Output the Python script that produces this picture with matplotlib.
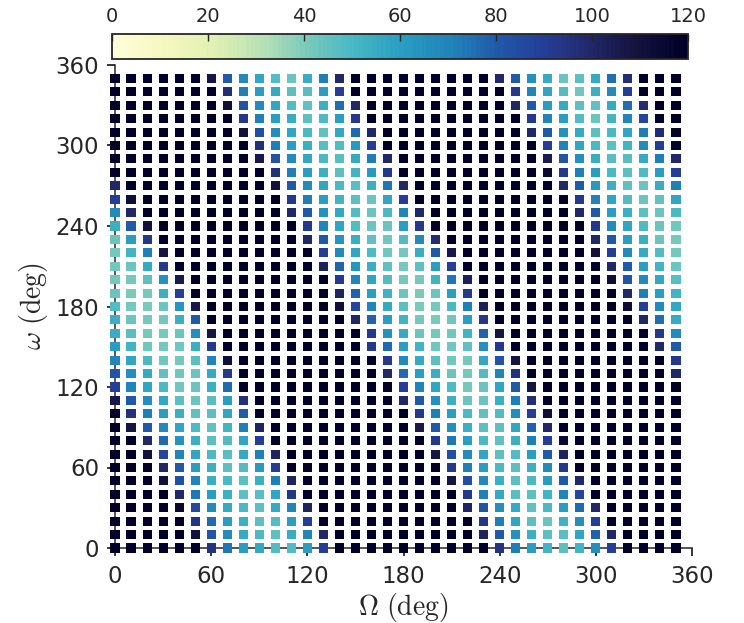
import numpy as np
import matplotlib
matplotlib.use('Agg')
import matplotlib.pyplot as plt
from matplotlib.colors import LinearSegmentedColormap

# Omega values along x, one list per omega row below
node_deg = list(range(0, 360, 10))
peri_deg = list(range(0, 360, 10))
x_ticks = [0, 60, 120, 180, 240, 300, 360]
y_ticks = [0, 60, 120, 180, 240, 300, 360]
cbar_ticks = [0, 20, 40, 60, 80, 100, 120]

w000 = [120,120,120,120,120,120,95,74,60,57,48,48,60,90,120,120,120,120,120,120,120,120,120,120,95,72,60,52,46,52,66,90,120,120,120,120]
w010 = [120,120,120,120,120,110,82,68,56,50,46,55,70,100,120,120,120,120,120,120,120,120,120,102,80,65,54,46,47,58,78,100,120,120,120,120]
w020 = [120,120,120,120,120,94,76,60,54,46,48,60,90,120,120,120,120,120,120,120,120,120,120,94,72,58,46,44,53,66,90,120,120,120,120,120]
w030 = [120,120,120,120,116,86,68,56,50,46,56,70,102,120,120,120,120,120,120,120,120,120,102,82,66,56,45,50,60,76,100,120,120,120,120,120]
w040 = [120,120,120,120,100,74,60,54,46,47,58,94,120,120,120,120,120,120,120,120,120,120,92,72,57,47,46,52,70,88,120,120,120,120,120,120]
w050 = [120,120,120,110,84,70,55,50,46,54,72,102,120,120,120,120,120,120,120,120,120,108,84,68,54,46,50,60,80,100,120,120,120,120,120,120]
w060 = [120,120,120,100,80,60,54,46,48,62,90,120,120,120,120,120,120,120,120,120,120,92,72,60,50,46,54,68,92,120,120,120,120,120,120,120]
w070 = [120,120,110,88,70,58,50,47,56,72,102,120,120,120,120,120,120,120,120,120,108,84,68,58,46,48,60,80,102,120,120,120,120,120,120,120]
w080 = [120,120,100,76,64,54,46,48,58,90,120,120,120,120,120,120,120,120,120,120,92,74,60,50,45,54,72,90,114,120,120,120,120,120,120,120]
w090 = [120,108,80,68,58,49,45,52,72,102,120,120,120,120,120,120,120,120,120,106,80,66,54,46,46,58,78,100,120,120,120,120,120,120,120,120]
w100 = [120,96,72,60,54,45,46,58,80,120,120,120,120,120,120,120,120,120,120,92,72,60,50,45,48,67,90,112,120,120,120,120,120,120,120,120]
w110 = [106,80,67,57,46,44,47,60,96,120,120,120,120,120,120,120,120,120,100,80,65,54,44,44,54,72,97,120,120,120,120,120,120,120,120,120]
w120 = [90,70,58,50,43,44,54,76,120,120,120,120,120,120,120,120,120,120,90,70,58,49,42,44,58,80,108,120,120,120,120,120,120,120,120,120]
w130 = [82,66,56,45,43,44,56,92,120,120,120,120,120,120,120,120,120,100,76,60,55,44,42,48,70,95,120,120,120,120,120,120,120,120,120,100]
w140 = [70,58,50,43,42,46,70,112,120,120,120,120,120,120,120,120,118,92,68,56,46,43,42,57,82,108,120,120,120,120,120,120,120,120,120,92]
w150 = [60,52,43,42,43,54,92,120,120,120,120,120,120,120,120,120,93,76,60,52,43,43,45,66,92,120,120,120,120,120,120,120,120,120,100,80]
w160 = [55,47,42,42,44,66,108,120,120,120,120,120,120,120,120,120,92,65,56,44,42,43,52,78,108,120,120,120,120,120,120,120,120,118,93,68]
w170 = [54,44,42,42,54,80,120,120,120,120,120,120,120,120,120,100,78,60,52,42,41,43,60,93,120,120,120,120,120,120,120,120,120,100,75,56]
w180 = [48,42,41,44,64,106,120,120,120,120,120,120,120,120,112,88,70,56,46,41,42,50,72,104,120,120,120,120,120,120,120,120,113,90,68,57]
w190 = [44,41,42,54,90,120,120,120,120,120,120,120,120,120,102,78,60,53,44,41,44,60,92,120,120,120,120,120,120,120,120,120,100,72,60,52]
w200 = [42,42,46,65,105,120,120,120,120,120,120,120,120,120,92,70,58,48,42,42,52,74,104,120,120,120,120,120,120,120,120,112,82,68,57,47]
w210 = [42,44,56,92,120,120,120,120,120,120,120,120,120,103,78,63,54,45,42,46,60,90,120,120,120,120,120,120,120,120,118,100,80,60,52,44]
w220 = [42,52,72,108,120,120,120,120,120,120,120,120,120,90,68,58,49,43,42,55,80,106,120,120,120,120,120,120,120,120,110,90,68,56,48,42]
w230 = [44,60,93,120,120,120,120,120,120,120,120,120,100,80,64,55,45,43,48,68,97,120,120,120,120,120,120,120,120,120,100,80,60,54,44,42]
w240 = [54,80,110,120,120,120,120,120,120,120,120,120,92,70,58,48,44,44,60,92,118,120,120,120,120,120,120,120,120,120,92,68,58,49,44,43]
w250 = [68,100,120,120,120,120,120,120,120,120,120,100,80,65,57,48,44,50,70,100,120,120,120,120,120,120,120,120,120,100,80,60,54,46,44,50]
w260 = [90,112,120,120,120,120,120,120,120,120,120,92,72,60,52,46,44,58,90,120,120,120,120,120,120,120,120,120,118,92,70,58,48,44,45,58]
w270 = [100,120,120,120,120,120,120,120,120,120,110,80,68,58,50,47,54,74,100,120,120,120,120,120,120,120,120,120,100,80,62,54,45,44,55,72]
w280 = [120,120,120,120,120,120,120,120,120,120,96,72,60,54,46,52,62,92,120,120,120,120,120,120,120,120,120,115,92,72,60,50,46,49,60,90]
w290 = [120,120,120,120,120,120,120,120,120,106,82,68,57,50,47,56,73,100,120,120,120,120,120,120,120,120,120,105,82,66,55,47,47,56,72,100]
w300 = [120,120,120,120,120,120,120,120,120,96,72,60,54,47,48,62,90,120,120,120,120,120,120,120,120,120,120,90,71,58,50,46,52,68,90,118]
w310 = [120,120,120,120,120,120,120,120,110,84,67,58,50,45,57,76,100,120,120,120,120,120,120,120,120,120,100,80,65,56,46,50,58,73,98,118]
w320 = [120,120,120,120,120,120,120,120,93,72,60,55,46,49,60,92,120,120,120,120,120,120,120,120,120,120,92,70,60,48,44,52,70,88,118,120]
w330 = [120,120,120,120,120,120,120,112,82,68,58,48,45,54,75,100,120,120,120,120,120,120,120,120,120,100,80,60,56,46,45,56,75,98,120,120]
w340 = [120,120,120,120,120,120,120,97,72,60,56,46,47,60,90,120,120,120,120,120,120,120,120,120,120,92,70,58,48,43,54,68,90,120,120,120]
w350 = [120,120,120,120,120,120,108,80,68,58,48,44,55,72,100,120,120,120,120,120,120,120,120,120,100,80,65,56,44,46,56,75,97,120,120,120]

rows = [w000, w010, w020, w030, w040, w050, w060, w070, w080, w090, w100, w110,
        w120, w130, w140, w150, w160, w170, w180, w190, w200, w210, w220, w230,
        w240, w250, w260, w270, w280, w290, w300, w310, w320, w330, w340, w350]
vals = np.array(rows, dtype=float)
xx, yy = np.meshgrid(node_deg, peri_deg)

# YlGnBu stretched out to a near black navy at the top end
cmap = LinearSegmentedColormap.from_list('ylgnbu_dark', [
    (0.0, '#ffffd9'), (0.09, '#f4f8bf'), (0.18, '#e0efb2'), (0.26, '#b7e1b5'),
    (0.335, '#7ccbbb'), (0.42, '#48b8c4'), (0.5, '#2a9fc2'), (0.6, '#1f80b8'),
    (0.67, '#2059a8'), (0.75, '#253f9a'), (0.83, '#22296b'), (0.91, '#14143f'),
    (1.0, '#000028')], N=128)

plt.rcParams['mathtext.fontset'] = 'cm'
ink = '#262626'

fig = plt.figure(figsize=(7.44, 6.23), dpi=100)
W, H = 744.0, 623.0
ax = fig.add_axes([115/W, 1 - 548/H, 577/W, 483/H])
sc = ax.scatter(xx.ravel(), yy.ravel(), c=vals.ravel(), cmap=cmap, vmin=0, vmax=120,
                marker='s', s=43, linewidths=0, clip_on=False, zorder=5)
ax.set_xlim(0, 360)
ax.set_ylim(0, 360)
ax.set_xticks(x_ticks)
ax.set_yticks(y_ticks)
ax.spines['top'].set_visible(False)
ax.spines['right'].set_visible(False)
for s in ['left', 'bottom']:
    ax.spines[s].set_linewidth(1.1)
    ax.spines[s].set_color(ink)
ax.tick_params(length=5.5, width=1.3, labelsize=16.5, color=ink, labelcolor=ink)
ax.tick_params(axis='x', pad=7)
ax.tick_params(axis='y', pad=6)
ax.set_xlabel(r'$\Omega\ \mathrm{(deg)}$', fontsize=20, color=ink, labelpad=2)
ax.set_ylabel(r'$\omega\ \mathrm{(deg)}$', fontsize=20, color=ink, labelpad=4)

cax = fig.add_axes([112/W, 1 - 59/H, 576/W, 25/H])
cb = fig.colorbar(sc, cax=cax, orientation='horizontal', ticks=cbar_ticks)
cb.solids.set_edgecolor('face')
cb.outline.set_linewidth(1.3)
cb.outline.set_edgecolor(ink)
cax.xaxis.set_ticks_position('top')
cax.tick_params(direction='in', length=5, width=1, labelsize=14, color=ink,
                labelcolor=ink, pad=6)

fig.savefig('out.png', dpi=100)
